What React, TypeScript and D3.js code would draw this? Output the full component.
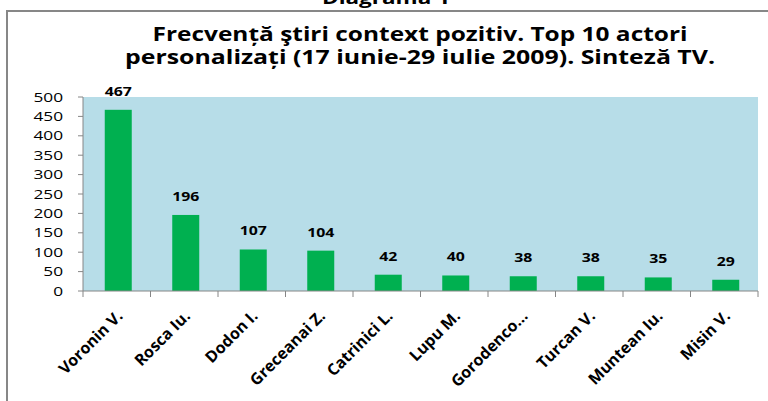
import React, { useEffect, useRef } from 'react';
import * as d3 from 'd3';

const actori: string[] = [
  'Voronin V.', 'Rosca Iu.', 'Dodon I.', 'Greceanai Z.', 'Catrinici L.',
  'Lupu M.', 'Gorodenco...', 'Turcan V.', 'Muntean Iu.', 'Misin V.',
];
const frecventa: number[] = [467, 196, 107, 104, 42, 40, 38, 38, 35, 29];
const yTicks: number[] = [0, 50, 100, 150, 200, 250, 300, 350, 400, 450, 500];
const titluSus = 'Diagrama 1';
const titlu1 = 'Frecvență ştiri context pozitiv. Top 10 actori';
const titlu2 = 'personalizați (17 iunie-29 iulie 2009). Sinteză TV.';

const W = 768;
const H = 401;
const FONT = '"Open Sans", sans-serif';
// the picture is stretched horizontally, text too
const SX = 1.38;

const Chart = () => {
  const ref = useRef<SVGSVGElement>(null);

  useEffect(() => {
    const svg = d3.select(ref.current);
    svg.selectAll('*').remove();

    const m = { left: 83, right: 758, top: 97, bottom: 291 };

    // chenar
    svg.append('rect')
      .attr('x', 7).attr('y', 11)
      .attr('width', W).attr('height', H)
      .attr('fill', 'white')
      .attr('stroke', '#878787').attr('stroke-width', 2);

    svg.append('text')
      .attr('x', 386).attr('y', 4)
      .attr('text-anchor', 'middle')
      .attr('font-family', FONT).attr('font-weight', 'bold')
      .attr('font-size', 17)
      .attr('textLength', 128).attr('lengthAdjust', 'spacingAndGlyphs')
      .text(titluSus);

    const titles: [string, number, number][] = [[titlu1, 41, 535], [titlu2, 64, 590]];
    titles.forEach(([t, y, len]) => {
      svg.append('text')
        .attr('x', 420).attr('y', y)
        .attr('text-anchor', 'middle')
        .attr('font-family', FONT).attr('font-weight', 'bold')
        .attr('font-size', 20)
        .attr('textLength', len).attr('lengthAdjust', 'spacingAndGlyphs')
        .text(t);
    });

    const x = d3.scaleBand<string>()
      .domain(actori)
      .range([m.left, m.right])
      .paddingInner(0.6)
      .paddingOuter(0.3);

    const y = d3.scaleLinear()
      .domain([0, 500])
      .range([m.bottom, m.top]);

    svg.append('rect')
      .attr('x', m.left).attr('y', m.top)
      .attr('width', m.right - m.left).attr('height', m.bottom - m.top)
      .attr('fill', '#b7dde8');

    svg.selectAll('.bar')
      .data(frecventa)
      .join('rect')
      .attr('class', 'bar')
      .attr('x', (_, i) => x(actori[i])! + 1.5)
      .attr('y', (d) => y(d))
      .attr('width', x.bandwidth())
      .attr('height', (d) => y(0) - y(d))
      .attr('fill', '#00b050');

    // etichete valori
    svg.selectAll('.val')
      .data(frecventa)
      .join('text')
      .attr('class', 'val')
      .attr('transform', (d, i) =>
        `translate(${x(actori[i])! + x.bandwidth() / 2 + 1.5},${y(d) - 14}) scale(${SX},1)`)
      .attr('text-anchor', 'middle')
      .attr('font-family', FONT).attr('font-weight', 'bold')
      .attr('font-size', 11.5)
      .text((d) => d);

    const grey = '#868686';

    // axa Y
    const gy = svg.append('g');
    gy.append('line')
      .attr('x1', m.left).attr('x2', m.left)
      .attr('y1', m.top).attr('y2', m.bottom)
      .attr('stroke', grey);
    yTicks.forEach((t) => {
      gy.append('line')
        .attr('x1', m.left - 5).attr('x2', m.left)
        .attr('y1', y(t)).attr('y2', y(t))
        .attr('stroke', grey);
      gy.append('text')
        .attr('transform', `translate(63,${y(t) + 4.5}) scale(${SX},1)`)
        .attr('text-anchor', 'end')
        .attr('font-family', FONT)
        .attr('font-size', 12.5)
        .attr('fill', '#000')
        .text(t);
    });

    // axa X
    const gx = svg.append('g');
    gx.append('line')
      .attr('x1', m.left).attr('x2', m.right)
      .attr('y1', m.bottom).attr('y2', m.bottom)
      .attr('stroke', grey);
    const step = x.step();
    d3.range(actori.length + 1).forEach((i) => {
      const xx = m.left + i * step;
      gx.append('line')
        .attr('x1', xx).attr('x2', xx)
        .attr('y1', m.bottom).attr('y2', m.bottom + 6)
        .attr('stroke', grey);
    });
    actori.forEach((a) => {
      const cx = x(a)! + x.bandwidth() / 2;
      gx.append('text')
        .attr('transform', `translate(${cx + 7},317) rotate(-45)`)
        .attr('text-anchor', 'end')
        .attr('font-family', FONT).attr('font-weight', 'bold')
        .attr('font-size', 16)
        .text(a);
    });
  }, []);

  return <svg ref={ref} width={W} height={H} style={{ display: 'block' }} />;
};

export default function App() {
  return (
    <div style={{ position: 'fixed', left: 0, top: 0, width: W, height: H, overflow: 'hidden', background: 'white' }}>
      <Chart />
    </div>
  );
}
